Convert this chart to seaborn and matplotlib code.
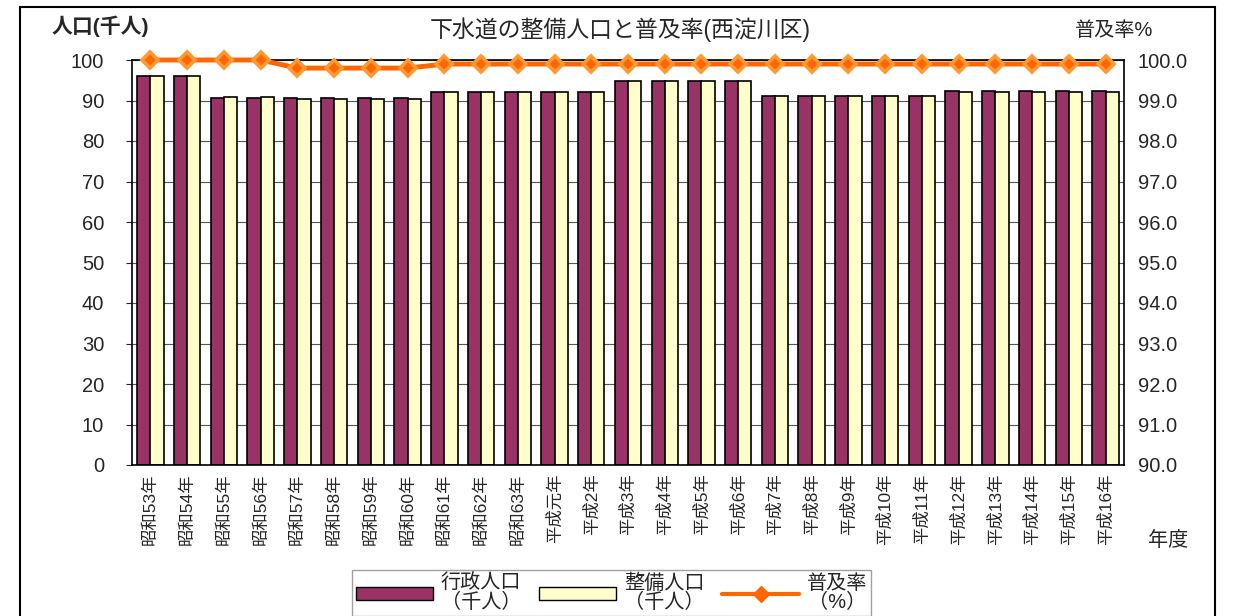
import numpy as np
import pandas as pd
import matplotlib
matplotlib.use("Agg")
import matplotlib.pyplot as plt
from matplotlib.patches import Rectangle
import seaborn as sns

# data
years = ["昭和53年", "昭和54年", "昭和55年", "昭和56年", "昭和57年", "昭和58年",
         "昭和59年", "昭和60年", "昭和61年", "昭和62年", "昭和63年", "平成元年",
         "平成2年", "平成3年", "平成4年", "平成5年", "平成6年", "平成7年",
         "平成8年", "平成9年", "平成10年", "平成11年", "平成12年", "平成13年",
         "平成14年", "平成15年", "平成16年"]
gyosei = [96.0, 96.0, 90.6, 90.6, 90.6, 90.6, 90.6, 90.6, 92.2, 92.2, 92.2, 92.2,
          92.2, 94.9, 94.9, 94.9, 94.9, 91.1, 91.1, 91.1, 91.1, 91.1, 92.3, 92.3,
          92.3, 92.3, 92.3]
seibi = [96.0, 96.0, 90.9, 90.9, 90.4, 90.4, 90.4, 90.4, 92.2, 92.2, 92.2, 92.2,
         92.2, 94.8, 94.8, 94.8, 94.8, 91.0, 91.0, 91.0, 91.0, 91.0, 92.2, 92.2,
         92.2, 92.2, 92.2]
fukyu = [100.0, 100.0, 100.0, 100.0, 99.8, 99.8, 99.8, 99.8, 99.9, 99.9, 99.9, 99.9,
         99.9, 99.9, 99.9, 99.9, 99.9, 99.9, 99.9, 99.9, 99.9, 99.9, 99.9, 99.9,
         99.9, 99.9, 99.9]
series_names = ["行政人口\n（千人）", "整備人口\n（千人）"]
rate_name = "普及率\n（%）"

sns.set_style("white")
plt.rcParams['font.family'] = ['Liberation Sans', 'Noto Sans CJK JP', 'DejaVu Sans']

df = pd.DataFrame({
    "year": years * 2,
    "series": [series_names[0]] * len(years) + [series_names[1]] * len(years),
    "value": gyosei + seibi,
})

fig = plt.figure(figsize=(12.33, 6.16), dpi=100)
ax = fig.add_axes([132 / 1233, 1 - 465 / 616, (1124 - 132) / 1233, (465 - 60) / 616])

sns.barplot(data=df, x="year", y="value", hue="series",
            palette=["#993366", "#FFFFCC"], edgecolor="black", linewidth=1.2,
            width=0.72, saturation=1, ax=ax, legend=False)
ax.set_ylim(0, 100)
ax.set_yticks(range(0, 101, 10))
ax.yaxis.grid(True, color="#555555", linewidth=0.8)
ax.set_axisbelow(True)
ax.set_xlim(-0.5, len(years) - 0.5)
ax.set_xlabel("")
ax.set_ylabel("")
ax.tick_params(axis="y", labelsize=14.5, length=4, left=True, pad=16)
ax.tick_params(axis="x", labelsize=12.5, rotation=90, length=0, pad=6)
for s in ax.spines.values():
    s.set_color("black")
    s.set_linewidth(1.2)

ax2 = ax.twinx()
sns.pointplot(x=years, y=fukyu, ax=ax2, color="#FF6600", markers="D",
              linewidth=3.5, markersize=8)
for ln in ax2.lines:
    ln.set_clip_on(False)
    ln.set_markeredgecolor("#FF9933")
ax2.set_ylim(90, 100)
ax2.set_yticks(np.arange(90, 100.1, 1))
ax2.set_yticklabels([f"{v:.1f}" for v in np.arange(90, 100.1, 1)])
ax2.set_xlim(-0.5, len(years) - 0.5)
ax2.tick_params(axis="y", labelsize=14.5, length=0, right=True, pad=10)
ax2.set_ylabel("")
for s in ax2.spines.values():
    s.set_visible(False)

# labels around the plot
fig.text(52 / 1233, 1 - 26 / 616, "人口(千人)", fontsize=15, fontweight="bold", va="center")
fig.text(620 / 1233, 1 - 30 / 616, "下水道の整備人口と普及率(西淀川区)", fontsize=16.5,
         ha="center", va="center")
fig.text(1075 / 1233, 1 - 30 / 616, "普及率%", fontsize=14.5, va="center")
fig.text(1148 / 1233, 1 - 540 / 616, "年度", fontsize=14.5, va="center")

# legend
handles = [Rectangle((0, 0), 1, 1, facecolor="#993366", edgecolor="black"),
           Rectangle((0, 0), 1, 1, facecolor="#FFFFCC", edgecolor="black"),
           plt.Line2D([], [], color="#FF6600", marker="D", linewidth=3, markersize=8)]
leg = fig.legend(handles, series_names + [rate_name], loc="upper left",
                 bbox_to_anchor=(352 / 1233, 1 - 570 / 616), ncol=3, fontsize=14.5,
                 frameon=True, fancybox=False, edgecolor="#888888",
                 handlelength=3.8, handleheight=0.6, columnspacing=0.9,
                 handletextpad=0.4, borderpad=0.2, borderaxespad=0)
for t in leg.get_texts():
    t.set_multialignment("center")
    t.set_linespacing(0.95)

# outer frame
fig.patches.append(Rectangle((20 / 1233, -0.1), 1195 / 1233, 1.1 - 7 / 616,
                             transform=fig.transFigure, fill=False,
                             edgecolor="black", linewidth=1.5))

fig.savefig("out.png", dpi=100)
